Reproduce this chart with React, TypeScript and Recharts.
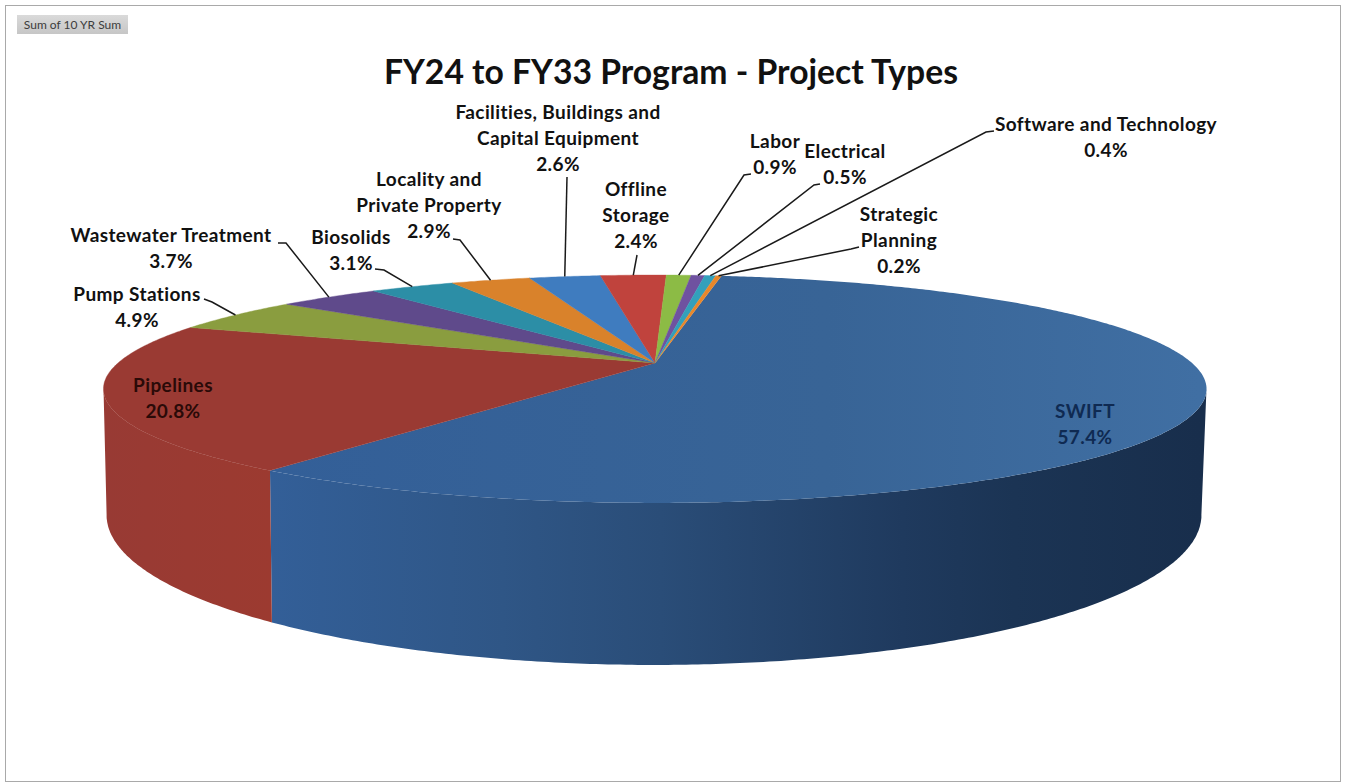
import React from "react";
import { PieChart, Pie } from "recharts";

const categories = ["SWIFT","Pipelines","Pump Stations","Wastewater Treatment","Biosolids","Locality and Private Property","Facilities, Buildings and Capital Equipment","Offline Storage","Labor","Electrical","Software and Technology","Strategic Planning"];
const shares = [57.4,20.8,4.9,3.7,3.1,2.9,2.6,2.4,0.9,0.5,0.4,0.2];
const percentLabels = ["57.4%","20.8%","4.9%","3.7%","3.1%","2.9%","2.6%","2.4%","0.9%","0.5%","0.4%","0.2%"];
const topFills = ["url(#topBlue)","#9a3a33","#8a9d3f","#5f4a8b","#2c8ea6","#d9822b","#3f7cbf","#c0433d","#8cbb45","#6f52a0","#32a0bb","#e8872a"];
const wallFills = ["url(#wallBlue)","url(#wallRed)","#6d7b32","#4c3b70","#237285","#ae6822","#326399","#9a3631","#709637","#594280","#288096","#ba6c22"];

const labelLines: string[][] = [["SWIFT"],["Pipelines"],["Pump Stations"],["Wastewater Treatment"],["Biosolids"],["Locality and","Private Property"],["Facilities, Buildings and","Capital Equipment"],["Offline","Storage"],["Labor"],["Electrical"],["Software and Technology"],["Strategic","Planning"]];
const labelAnchors: [number, number][] = [[1085,412],[173,386],[137,295],[171,236],[351,238],[429,180],[558,113],[636,190],[775,142],[845,152],[1106,125],[899,215]];
const labelColors = ["#0f2a52","#2a0a08","#111","#111","#111","#111","#111","#111","#111","#111","#111","#111"];
const leaderElbows: ([number, number][] | null)[] = [null,null,[[204,299],[212,302]],[[278,243],[286,243]],[[375,269],[384,270]],[[453,239],[460,240]],[[567,177]],[[637,255]],[[751,174],[744,175]],[[820,184],[814,185]],[[994,131],[986,132]],[[859,247],[851,249]]];

const data = categories.map((name, i) => ({ name, value: shares[i] }));

const P = -0.228;
const APEX_X = 655, APEX_Y = 363;
const TOP = { a: 537, b: 108, x: APEX_X, y: APEX_Y };
const BOTTOM = { a: 533, b: 142, x: 654, y: 481 };
const project = (deg: number, s: typeof TOP): [number, number] => {
  const r = (deg * Math.PI) / 180;
  const x = Math.sin(r), y = -Math.cos(r);
  const d = 1 + P * y;
  return [s.x + (s.a * x) / d, s.y + (s.b * y) / d];
};
const arc = (from: number, to: number, s: typeof TOP) => {
  const pts: [number, number][] = [];
  const steps = Math.max(2, Math.ceil(Math.abs(to - from) * 2));
  for (let i = 0; i <= steps; i++) pts.push(project(from + ((to - from) * i) / steps, s));
  return pts;
};
const path = (pts: [number, number][]) => "M" + pts.map((p) => p[0].toFixed(1) + " " + p[1].toFixed(1)).join("L") + "Z";

const TopFace = (props: any) => {
  const t0 = 90 - props.startAngle, t1 = 90 - props.endAngle;
  const fill = topFills[props.index ?? 0];
  return <path d={path([[APEX_X, APEX_Y], ...arc(t0, t1, TOP)])} fill={fill} stroke={props.index === 0 ? "none" : fill} strokeWidth={0.4} />;
};
const Wall = (props: any) => {
  const t0 = Math.max(90 - props.startAngle, 103), t1 = Math.min(90 - props.endAngle, 257);
  if (t1 <= t0) return <g />;
  const fill = wallFills[props.index ?? 0];
  return <path d={path([...arc(t0, t1, TOP), ...arc(t1, t0, BOTTOM)])} fill={fill} />;
};
const SliceLabel = (props: any) => {
  const i = props.index as number;
  const lines = [...labelLines[i], percentLabels[i]];
  const [ax, ay] = labelAnchors[i];
  const elbow = leaderElbows[i];
  const rim = project(90 - props.midAngle, TOP);
  return (
    <g>
      {elbow && <polyline points={[...elbow, rim].map((p) => p.join(",")).join(" ")} fill="none" stroke="#1a1a1a" strokeWidth={1.5} />}
      {lines.map((t, k) => (
        <text key={k} x={ax} y={ay + 1.5 + k * 25.8} textAnchor="middle" dominantBaseline="middle" fontFamily="Lato, sans-serif" fontWeight={700} fontSize={19} letterSpacing={0.4} fill={labelColors[i]}>{t}</text>
      ))}
    </g>
  );
};

export default function App() {
  return (
    <div style={{ position: "absolute", left: 0, top: 0, width: 1346, height: 783, background: "#fff", overflow: "hidden" }}>
      <div style={{ position: "absolute", left: 5, top: 5, width: 1334, height: 775, border: "1.5px solid #a9a9a9", boxSizing: "content-box" }} />
      <div style={{ position: "absolute", left: 17, top: 15, width: 111, height: 19, background: "linear-gradient(#dadada,#c6c6c6)", fontFamily: "Lato, sans-serif", fontSize: 12, lineHeight: "20px", textAlign: "center", color: "#3c3c3c", whiteSpace: "nowrap" }}>Sum of 10 YR Sum</div>
      <div style={{ position: "absolute", left: 0, top: 47, width: 1342, textAlign: "center", fontFamily: "Lato, sans-serif", fontWeight: 700, fontSize: 33.7, lineHeight: "48px", color: "#111" }}>FY24 to FY33 Program - Project Types</div>
      <div style={{ position: "absolute", left: 0, top: 0 }}>
        <PieChart width={1346} height={783} margin={{ top: 0, right: 0, bottom: 0, left: 0 }}>
          <defs>
            <linearGradient id="topBlue" gradientUnits="userSpaceOnUse" x1={270} y1={0} x2={1200} y2={0}>
              <stop offset="0%" stopColor="#335f98" />
              <stop offset="60%" stopColor="#386496" />
              <stop offset="100%" stopColor="#406fa3" />
            </linearGradient>
            <linearGradient id="wallBlue" gradientUnits="userSpaceOnUse" x1={270} y1={0} x2={1200} y2={0}>
              <stop offset="0%" stopColor="#335f98" />
              <stop offset="25%" stopColor="#2f5686" />
              <stop offset="42%" stopColor="#2a4d78" />
              <stop offset="68%" stopColor="#1f3a5e" />
              <stop offset="80%" stopColor="#1b3454" />
              <stop offset="100%" stopColor="#182e4c" />
            </linearGradient>
            <linearGradient id="wallRed" gradientUnits="userSpaceOnUse" x1={105} y1={0} x2={272} y2={0}>
              <stop offset="0%" stopColor="#983a34" />
              <stop offset="100%" stopColor="#9c3a30" />
            </linearGradient>
          </defs>
          <Pie data={data} dataKey="value" nameKey="name" cx={APEX_X} cy={APEX_Y} outerRadius={552} innerRadius={0} startAngle={81.3} endAngle={-278.7} stroke="none" shape={Wall} isAnimationActive={false} label={false} labelLine={false} />
          <Pie data={data} dataKey="value" nameKey="name" cx={APEX_X} cy={APEX_Y} outerRadius={552} innerRadius={0} startAngle={81.3} endAngle={-278.7} stroke="none" shape={TopFace} isAnimationActive={false} label={SliceLabel} labelLine={false} />
        </PieChart>
      </div>
    </div>
  );
}
